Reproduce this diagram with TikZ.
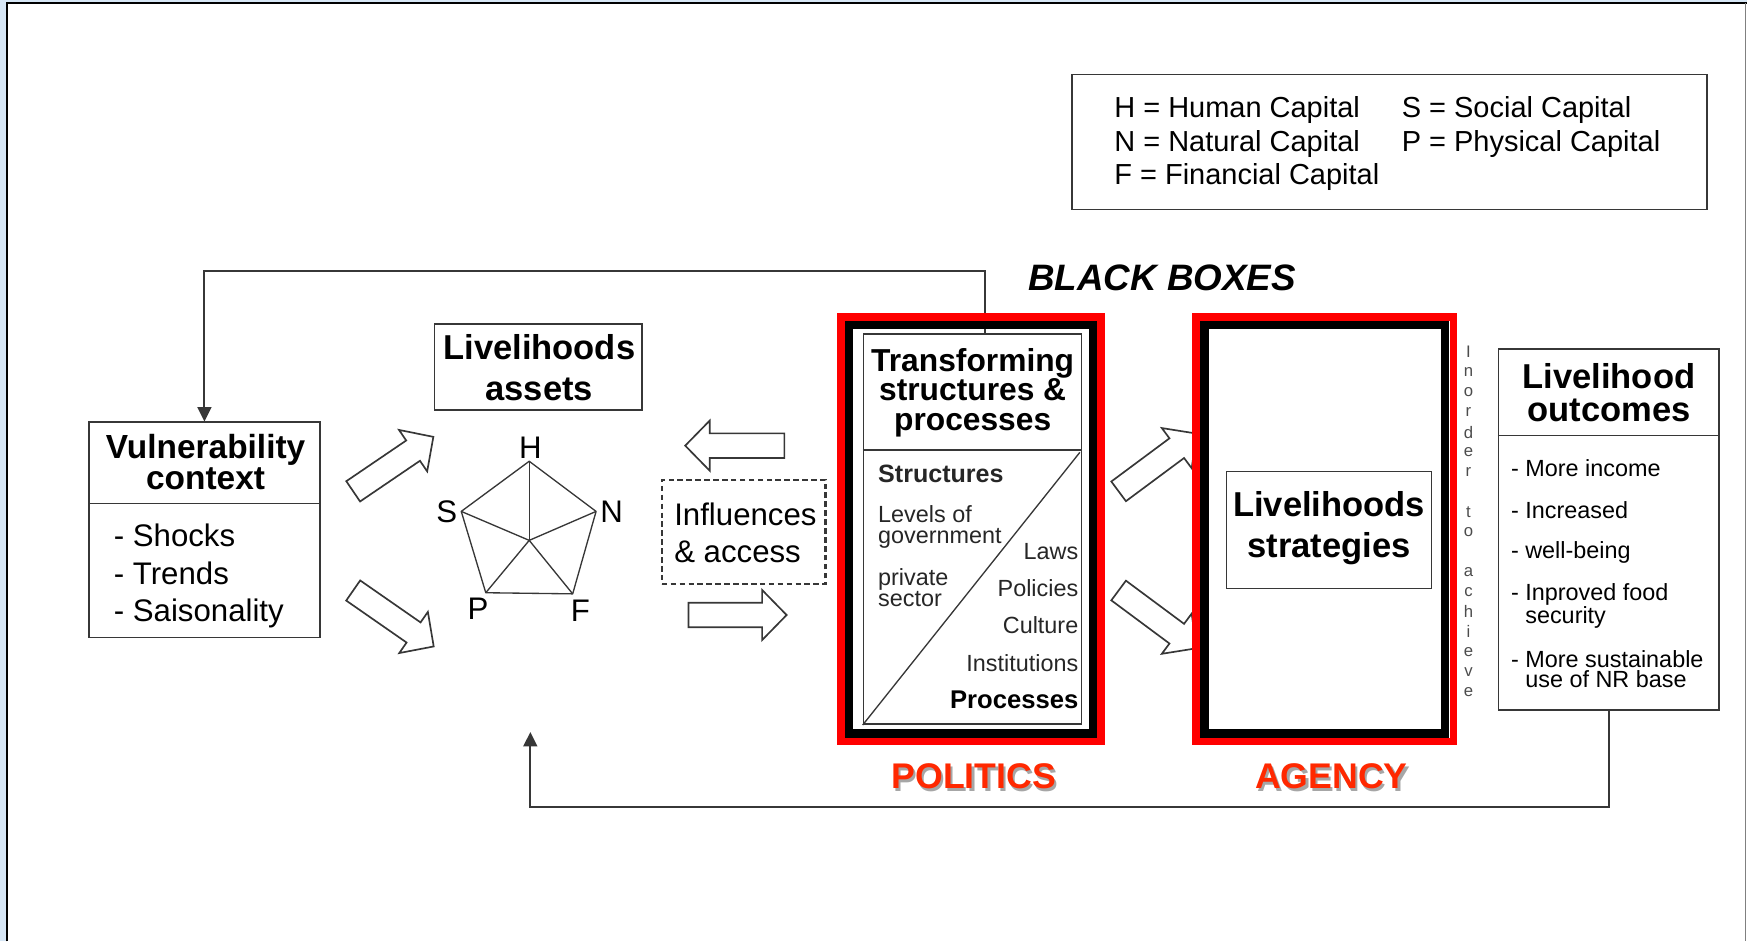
\documentclass[tikz,border=0pt]{standalone}
\usepackage{fontspec}
\setmainfont{Liberation Sans}
\usetikzlibrary{positioning,arrows.meta,calc}

\definecolor{framered}{RGB}{255,0,0}
\definecolor{labelred}{RGB}{255,40,0}
\definecolor{linegrey}{RGB}{55,55,55}
\definecolor{slideblue}{RGB}{214,230,245}

\newcommand{\fsz}[2]{\fontsize{#1}{#2}\selectfont}
% hollow block arrow: tail point, angle, length
\newcommand{\blockarrow}[3]{%
\draw[blockarr,shift={#1},rotate=#2] (0,-11) -- (#3-22,-11) -- (#3-22,-22.5) -- (#3,0)
  -- (#3-22,22.5) -- (#3-22,11) -- (0,11) -- cycle;}

\tikzset{
  box/.style={draw=linegrey, line width=1.4pt, inner sep=0pt},
  ttl/.style={font=\bfseries\fsz{31}{29}, align=center, inner sep=0pt},
  txt/.style={font=\fsz{28}{33.5}, align=left, inner sep=0pt},
  small/.style={font=\fsz{21}{18.5}, align=left, inner sep=0pt, text=black!85},
  leg/.style={font=\fsz{26}{30}, align=left, inner sep=0pt},
  redframe/.style={draw=framered, line width=7pt, inner sep=0pt},
  blkframe/.style={draw=black, line width=7.5pt, inner sep=0pt},
  blockarr/.style={draw=linegrey, line width=1.5pt, fill=white, line join=miter},
  fb/.style={draw=linegrey, line width=1.8pt},
  fbtip/.style={-{Triangle[length=13pt,width=12.5pt]}},
  capred/.style={font=\bfseries\fsz{32}{32}, text=labelred, inner sep=0pt},
  vl/.style={font=\fsz{15}{15}, text=black!70, inner sep=0pt},
}

\begin{document}
\begin{tikzpicture}[x=1pt,y=-1pt]
\useasboundingbox (0,0) rectangle (1568,845);
% slide frame
\fill[slideblue] (0,0) rectangle (5,845);
\fill[slideblue] (0,0) rectangle (1568,2);
\draw[black, line width=2pt] (6.5,845) -- (6.5,3) -- (1568,3);
\draw[gray, line width=1pt] (1567,3) -- (1567,845);

% legend
\node[box, minimum width=570pt, minimum height=121pt] (legend) at (1247,127.5) {};
\node[leg, anchor=west] (legl) at (1000,129) {H = Human Capital\\N = Natural Capital\\F = Financial Capital};
\node[leg, anchor=west] (legr) at (1258,114) {S = Social Capital\\P = Physical Capital};

\node[font=\bfseries\itshape\fsz{33}{33}, inner sep=0pt] (bb) at (1043,249) {BLACK BOXES};

% vulnerability context
\node[box, minimum width=207pt, minimum height=193pt] (vul) at (183.5,475.5) {};
\draw[box] (vul.west |- 0,452) -- (vul.east |- 0,452);
\node[ttl, font=\bfseries\fsz{30}{28}] (vultitle) at (184.5,415) {Vulnerability\\context};
\node[txt, anchor=west] (vulitems) at (102,517) {- Shocks\\- Trends\\- Saisonality};

% livelihoods assets
\node[box, minimum width=186pt, minimum height=77pt] (assets) at (483,329.5) {};
\node[ttl, font=\bfseries\fsz{31}{36}] (assetstitle) at (484,330) {Livelihoods\\assets};

% pentagon
\coordinate (pc) at (475,485);
\coordinate (H) at (475,414);
\coordinate (N) at (535,459);
\coordinate (F) at (514,533);
\coordinate (P) at (436,532);
\coordinate (S) at (414,459);
\draw[linegrey, line width=1.2pt, line join=round] (H) -- (N) -- (F) -- (P) -- (S) -- cycle;
\foreach \v in {H,N,F,P,S}
  \draw[linegrey, line width=1.2pt] (pc) -- (\v);
\node[txt] (lh) at (476,402) {H};
\node[txt] (ln) at (549,459) {N};
\node[txt] (lf) at (521,548) {F};
\node[txt] (lp) at (429,546) {P};
\node[txt] (ls) at (401,459) {S};

% block arrows
\blockarrow{(317,441)}{34.2}{87}
\blockarrow{(317,530)}{-34.8}{88}
\blockarrow{(704,400)}{180}{89}
\blockarrow{(618,552)}{0}{88}
\blockarrow{(1004,441)}{36.6}{87}
\blockarrow{(1004,530)}{-36.6}{87}

% influences & access
\node[draw=linegrey, line width=2pt, dash pattern=on 5pt off 3pt, minimum width=147pt, minimum height=93pt, inner sep=0pt] (infl) at (667.5,477.5) {};
\node[txt, font=\fsz{28}{33}, anchor=west] (infltext) at (605,478.5) {Influences\\\& access};

% transforming structures & processes
\node[box, minimum width=195.5pt, minimum height=350pt] (trans) at (872.75,475) {};
\coordinate (tk) at (884,243);
\draw[fb, fbtip] (trans.north -| tk) -- (tk) -| (vul.north);
\node[redframe, minimum width=233.5pt, minimum height=381pt] (polred) at (871.25,475) {};
\node[blkframe, minimum width=219pt, minimum height=366.5pt] (polblk) at (871.25,475) {};
\draw[box] (trans.west |- 0,404) -- (trans.east |- 0,404);
\draw[linegrey, line width=1.2pt] (trans.south west) -- ($(trans.east |- 0,404)+(-2,2)$);
\node[ttl, font=\bfseries\fsz{28.5}{26.5}] (transtitle) at (873,352.5) {Transforming\\structures \&\\processes};
\node[small, font=\bfseries\fsz{22.5}{22}, anchor=west] (struct) at (788,425) {Structures};
\node[small, anchor=west] (levels) at (788,473) {Levels of\\government};
\node[small, anchor=west] (private) at (788,527.5) {private\\sector};
\node[small, anchor=east] (laws) at (968,495) {Laws};
\node[small, anchor=east] (pol) at (968,528) {Policies};
\node[small, anchor=east] (cult) at (968,561) {Culture};
\node[small, anchor=east] (inst) at (968,595) {Institutions};
\node[small, font=\bfseries\fsz{23}{23}, anchor=east, text=black] (proc) at (968,628) {Processes};

% livelihoods strategies
\node[redframe, minimum width=231pt, minimum height=381pt] (agred) at (1189,475) {};
\node[blkframe, minimum width=216pt, minimum height=366.5pt] (agblk) at (1189,475) {};
\node[box, minimum width=184pt, minimum height=105pt] (strat) at (1193,475.5) {};
\node[ttl, font=\bfseries\fsz{31}{36}] (strattitle) at (1193,474) {Livelihoods\\strategies};

% in order to achieve
\foreach \ch [count=\i from 0] in {I,n,o,r,d,e,r,{},t,o,{},a,c,h,i,e,v,e}
  \node[vl] (ach\i) at (1318,316+17.94*\i) {\ch};

% livelihood outcomes
\node[box, minimum width=198pt, minimum height=324pt] (out) at (1444,475) {};
\draw[box] (out.west |- 0,391) -- (out.east |- 0,391);
\node[ttl] (outtitle) at (1444,352.5) {Livelihood\\outcomes};
\node[small, anchor=west, text=black] (o1) at (1356,420) {- More income};
\node[small, anchor=west, text=black] (o2) at (1356,458) {- Increased};
\node[small, anchor=west, text=black] (o3) at (1356,496) {- well-being};
\node[small, anchor=west, text=black] (o4) at (1356,543.5) {- Inproved food\\\hphantom{- }security};
\node[small, anchor=west, text=black] (o5) at (1356,600.5) {- More sustainable\\\hphantom{- }use of NR base};

% feedback to assets
\coordinate (bl) at (476,724);
\coordinate (pe) at (476,657);
\draw[fb, fbtip] (out.south) |- (bl) -- (pe);

% captions
\node[capred, text=black!35] (polsh) at (876,699) {POLITICS};
\node[capred] (polcap) at (874,697) {POLITICS};
\node[capred, text=black!35] (agsh) at (1197,699) {AGENCY};
\node[capred] (agcap) at (1195,697) {AGENCY};
\end{tikzpicture}
\end{document}
